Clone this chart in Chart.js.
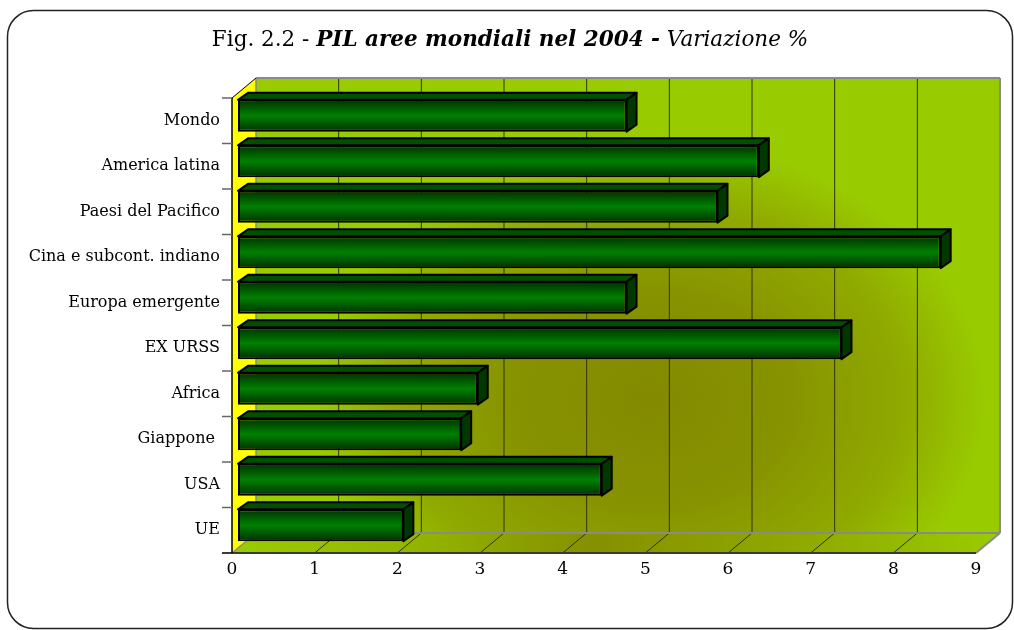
<!DOCTYPE html>
<html>
<head>
<meta charset="utf-8">
<script src="https://cdn.jsdelivr.net/npm/chart.js@4.4.1/dist/chart.umd.min.js"></script>
<style>
  html, body { margin: 0; padding: 0; background: #fff; }
  #wrap { width: 1014px; height: 630px; position: relative; }
</style>
</head>
<body>
<div id="wrap"><canvas id="pil-chart"></canvas></div>
<script>
// ===== dati =====
const categories = [
  "Mondo",
  "America latina",
  "Paesi del Pacifico",
  "Cina e subcont. indiano",
  "Europa emergente",
  "EX URSS",
  "Africa",
  "Giappone ",
  "USA",
  "UE",
];
const variazione = [4.7, 6.3, 5.8, 8.5, 4.7, 7.3, 2.9, 2.7, 4.4, 2.0];
const xTicks = [0, 1, 2, 3, 4, 5, 6, 7, 8, 9];

const titleParts = [
  { text: "Fig. 2.2 - ", style: "" },
  { text: "PIL aree mondiali nel 2004 -", style: "italic bold " },
  { text: " Variazione %", style: "italic " },
];

// profondità 3D (piano barre = 1/4 della profondità)
const FRONT = { dx: -6, dy: 5 };
const BACK = { dx: 18, dy: -15 };
const BAR_DEPTH = { dx: 10, dy: -7 };
const SERIF = "'DejaVu Serif', 'Liberation Serif', serif";

const poly = (ctx, pts, fill, stroke, lw = 1) => {
  ctx.beginPath();
  pts.forEach(([px, py], i) => (i ? ctx.lineTo(px, py) : ctx.moveTo(px, py)));
  ctx.closePath();
  if (fill) { ctx.fillStyle = fill; ctx.fill(); }
  if (stroke) { ctx.strokeStyle = stroke; ctx.lineWidth = lw; ctx.stroke(); }
};
const line = (ctx, x1, y1, x2, y2, color, lw = 1) => {
  ctx.beginPath();
  ctx.moveTo(x1, y1);
  ctx.lineTo(x2, y2);
  ctx.strokeStyle = color;
  ctx.lineWidth = lw;
  ctx.stroke();
};

// ===== cornice + titolo =====
const framePlugin = {
  id: "frame",
  beforeDraw: (chart) => {
    const { ctx, width, height } = chart;
    ctx.save();
    ctx.fillStyle = "#fff";
    ctx.fillRect(0, 0, width, height);
    ctx.beginPath();
    ctx.roundRect(7.5, 10.5, 1005, 618, 26);
    ctx.strokeStyle = "#222";
    ctx.lineWidth = 1.5;
    ctx.stroke();
    ctx.restore();
  },
  afterDraw: (chart) => {
    const { ctx } = chart;
    ctx.save();
    ctx.textBaseline = "alphabetic";
    ctx.fillStyle = "#000";
    const size = 21.5;
    let total = 0;
    titleParts.forEach((p) => {
      ctx.font = p.style + size + "px " + SERIF;
      p.w = ctx.measureText(p.text).width;
      total += p.w;
    });
    let x = 510 - total / 2;
    titleParts.forEach((p) => {
      ctx.font = p.style + size + "px " + SERIF;
      ctx.fillText(p.text, x, 46);
      x += p.w;
    });
    ctx.restore();
  },
};

// ===== pareti, pavimento, griglia =====
const wallsPlugin = {
  id: "walls3d",
  beforeDatasetsDraw: (chart) => {
    const { ctx, chartArea: a, scales } = chart;
    const xs = scales.x, ys = scales.y;
    const L = a.left + BACK.dx, R = a.right + BACK.dx;
    const T = a.top + BACK.dy, B = a.bottom + BACK.dy;
    const fL = a.left + FRONT.dx, fR = a.right + FRONT.dx;
    const fT = a.top + FRONT.dy, fB = a.bottom + FRONT.dy;
    ctx.save();

    // parete di fondo (ombra ellittica)
    ctx.fillStyle = "#99cc00";
    ctx.fillRect(L, T, R - L, B - T);
    ctx.save();
    ctx.beginPath();
    ctx.rect(L, T, R - L, B - T);
    ctx.clip();
    ctx.translate(650, 400);
    ctx.scale(1.3, 1);
    const rg = ctx.createRadialGradient(0, 0, 5, 0, 0, 260);
    rg.addColorStop(0, "#838a00");
    rg.addColorStop(0.4, "#879300");
    rg.addColorStop(0.75, "#90aa00");
    rg.addColorStop(1, "#99cc00");
    ctx.fillStyle = rg;
    ctx.fillRect(-400, -400, 800, 800);
    ctx.restore();

    // pavimento
    const fg = ctx.createLinearGradient(fL, 0, R, 0);
    fg.addColorStop(0, "#99cc00");
    fg.addColorStop(0.22, "#93b800");
    fg.addColorStop(0.47, "#869000");
    fg.addColorStop(0.75, "#90aa00");
    fg.addColorStop(1, "#99cc00");
    poly(ctx, [[fL, fB], [fR, fB], [R, B], [L, B]], fg);

    // parete sinistra
    poly(ctx, [[fL, fT], [L, T], [L, B], [fL, fB]], "#ffff00");

    // griglia
    xTicks.forEach((v) => {
      const px = xs.getPixelForValue(v);
      if (v > 0 && v < 9) line(ctx, px + BACK.dx, T, px + BACK.dx, B, "#2f3300", 1);
      if (v > 0 && v < 9) line(ctx, px + FRONT.dx, fB, px + BACK.dx, B, "#2f3300", 1);
    });

    // bordi grigi
    line(ctx, L, T, R, T, "#8a8a8a", 2);
    line(ctx, R, T, R, B, "#8a8a8a", 2);
    line(ctx, L, T, L, B, "#8a8a8a", 1.5);
    line(ctx, L, B, R, B, "#8a8a8a", 2);
    line(ctx, fL, fB, L, B, "#8a8a8a", 1.5);
    line(ctx, fR, fB, R, B, "#8a8a8a", 2);
    line(ctx, fL - 10, fB, fR, fB, "#3a3a3a", 2);
    line(ctx, fL, fT, L, T, "#000", 1);
    line(ctx, fL, fT, fL, fB, "#000", 1.5);

    // tacche asse categorie
    const half = (ys.getPixelForValue(1) - ys.getPixelForValue(0)) / 2;
    categories.forEach((_, i) => {
      const py = ys.getPixelForValue(i) - half + FRONT.dy;
      line(ctx, fL - 10, py, fL, py, "#666", 1.5);
    });
    ctx.restore();
  },
  afterDatasetsDraw: (chart) => {
    const { ctx } = chart;
    const meta = chart.getDatasetMeta(0);
    ctx.save();
    ctx.lineJoin = "round";
    meta.data.forEach((bar) => {
      const { x, y, base, height } = bar.getProps(["x", "y", "base", "height"], true);
      const top = y - height / 2, bottom = y + height / 2;
      const { dx, dy } = BAR_DEPTH;
      poly(ctx, [[base, top], [base + dx, top + dy], [x + dx, top + dy], [x, top]], "#005000", "#000", 2);
      poly(ctx, [[x, top], [x + dx, top + dy], [x + dx, bottom + dy], [x, bottom]], "#003800", "#000", 2);
    });
    ctx.restore();
  },
};

const barGradient = (context) => {
  const chart = context.chart;
  const { chartArea, scales } = chart;
  if (!chartArea || context.dataIndex === undefined) return "#007000";
  const cy = scales.y.getPixelForValue(context.dataIndex);
  const h = 16;
  const g = chart.ctx.createLinearGradient(0, cy - h, 0, cy + h);
  g.addColorStop(0, "#003000");
  g.addColorStop(0.5, "#008000");
  g.addColorStop(1, "#003000");
  return g;
};

new Chart(document.getElementById("pil-chart").getContext("2d"), {
  type: "bar",
  data: {
    labels: categories,
    datasets: [
      {
        label: "Variazione %",
        data: variazione,
        backgroundColor: barGradient,
        borderColor: "#000",
        borderWidth: 2,
        borderSkipped: false,
        categoryPercentage: 1,
        barPercentage: 0.7,
      },
    ],
  },
  options: {
    responsive: true,
    maintainAspectRatio: false,
    animation: false,
    indexAxis: "y",
    layout: { padding: { top: 93, right: 32, left: 0, bottom: 0 } },
    plugins: {
      legend: { display: false },
      tooltip: { enabled: false },
      title: { display: false },
    },
    scales: {
      y: {
        grid: { display: false, drawTicks: false },
        border: { display: false },
        afterFit: (s) => { s.width = 238; },
        ticks: {
          padding: 18,
          labelOffset: 5,
          color: "#000",
          font: { family: SERIF, size: 16 },
        },
      },
      x: {
        min: 0,
        max: 9,
        grid: { display: false, drawTicks: false },
        border: { display: false },
        afterFit: (s) => { s.height = 82; },
        ticks: {
          stepSize: 1,
          padding: 11,
          labelOffset: -6,
          color: "#000",
          font: { family: SERIF, size: 17 },
        },
      },
    },
  },
  plugins: [framePlugin, wallsPlugin],
});
</script>
</body>
</html>
